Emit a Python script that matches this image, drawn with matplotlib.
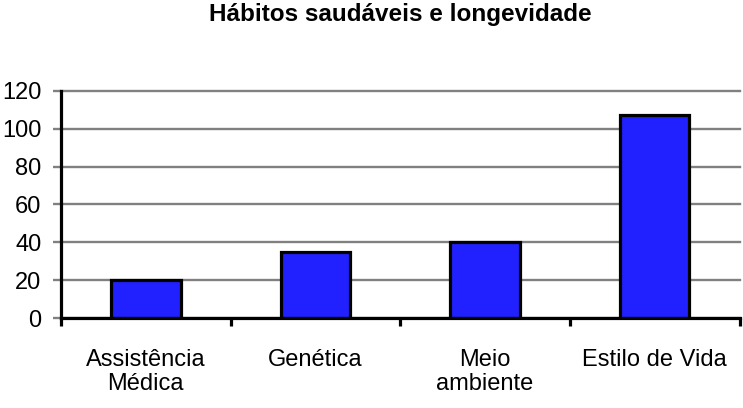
import numpy as np
import matplotlib
matplotlib.use("Agg")
import matplotlib.pyplot as plt

# Dados do gráfico
categorias = ["Assistência\nMédica", "Genética", "Meio\nambiente", "Estilo de Vida"]
valores = [20, 35, 40, 107]
titulo = "Hábitos saudáveis e longevidade"
y_ticks = [0, 20, 40, 60, 80, 100, 120]

plt.rcParams['font.family'] = ['Liberation Sans', 'DejaVu Sans']

fig = plt.figure(figsize=(7.43, 4.08), dpi=100)
ax = fig.add_axes([0.0821, 0.2199, 0.9132, 0.5578])

x = np.arange(len(categorias))
ax.bar(x, valores, width=0.41, color='#2121ff', edgecolor='black', linewidth=2.3, zorder=3)

ax.set_xlim(-0.5, len(categorias) - 0.5)
ax.set_ylim(y_ticks[0], y_ticks[-1])
ax.set_yticks(y_ticks)

# Grade horizontal cinza
ax.grid(axis='y', color='#808080', linewidth=1.7, zorder=0)
ax.set_axisbelow(True)
for linha in ax.get_ygridlines():
    linha.set_clip_on(False)

# Eixos
for s in ['top', 'right']:
    ax.spines[s].set_visible(False)
ax.spines['left'].set_linewidth(2.3)
ax.spines['bottom'].set_linewidth(2.3)
ax.spines['bottom'].set_zorder(4)

# Ticks do eixo x nas divisas entre categorias
ax.set_xticks(x)
ax.set_xticklabels(categorias, fontsize=17, linespacing=1.1)
ax.set_xticks(np.arange(len(categorias) + 1) - 0.5, minor=True)
ax.tick_params(axis='x', which='major', length=0, pad=22)
ax.tick_params(axis='x', which='minor', length=6, width=2.3, color='black', direction='out')
ax.tick_params(axis='y', which='major', length=6, width=1.7, color='#808080', labelsize=17, pad=8)

ax.set_title(titulo, fontsize=17.5, fontweight='bold', pad=50)

fig.savefig("out.png", dpi=100)
